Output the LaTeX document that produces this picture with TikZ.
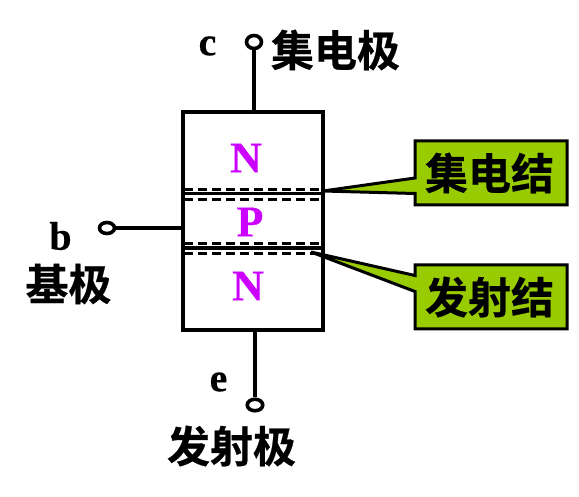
\documentclass[tikz,border=0pt]{standalone}
\usepackage{fontspec}
\setmainfont{Liberation Serif}[BoldFeatures={FakeBold=0.4}]
\newfontfamily\cjk{Noto Sans CJK SC Bold}[FakeBold=0.6]
\definecolor{calloutgreen}{HTML}{99CC00}
\definecolor{layerpurple}{HTML}{CC00FF}
\usetikzlibrary{shapes.geometric}
\tikzset{
  lab/.style={inner sep=0pt,font=\cjk\fontsize{43}{43}\selectfont},
  pin/.style={inner sep=0pt,font=\bfseries\fontsize{40}{40}\selectfont},
  layer/.style={inner sep=0pt,text=layerpurple,font=\bfseries\fontsize{44}{44}\selectfont},
  wire/.style={line width=3.4pt},
  term/.style={draw,line width=3.6pt,fill=white,ellipse,inner sep=0pt},
  dash line/.style={line width=2.4pt,dash pattern=on 9pt off 5pt},
  call/.style={draw,line width=3pt,fill=calloutgreen,line join=miter}
}
\begin{document}
\begin{tikzpicture}[x=1pt,y=-1pt]
\useasboundingbox (0,0) rectangle (579,497);
% body
\node[draw,line width=3.8pt,minimum width=140pt,minimum height=218pt,inner sep=0pt] (body) at (253,221) {};
% junction lines
\coordinate (j1l) at (183,193.5); \coordinate (j1r) at (323,193.5);
\coordinate (j2l) at (183,248); \coordinate (j2r) at (323,248);
\draw[wire] (j1l) -- (j1r);
\draw[wire] (j2l) -- (j2r);
\coordinate (d1l) at (184,189.5); \coordinate (d1r) at (323,189.5);
\coordinate (d2l) at (184,199.5); \coordinate (d2r) at (323,199.5);
\coordinate (d3l) at (184,243.5); \coordinate (d3r) at (323,243.5);
\coordinate (d4l) at (184,253.5); \coordinate (d4r) at (323,253.5);
\draw[dash line] (d1l) -- (d1r);
\draw[dash line] (d2l) -- (d2r);
\draw[dash line] (d3l) -- (d3r);
\draw[dash line] (d4l) -- (d4r);
% terminals
\node[term,minimum width=15pt,minimum height=13pt] (tc) at (254,42) {};
\node[term,minimum width=15pt,minimum height=11pt] (tb) at (107,228) {};
\node[term,minimum width=15.5pt,minimum height=11.5pt] (te) at (255,405) {};
\coordinate (bc) at (254,112); \coordinate (bb) at (183,228); \coordinate (be) at (255,330);
\draw[wire] (tc) -- (bc);
\draw[wire] (tb) -- (bb);
\draw[wire] (te) -- (be);
% callouts
\coordinate (tip1) at (323,191);
\coordinate (tip2) at (311,252);
\draw[call] (415,141) -- (567,141) -- (567,205) -- (415,205) -- (415,193.5) -- (tip1) -- (415,178) -- cycle;
\draw[call] (415,265) -- (567,265) -- (567,329) -- (415,329) -- (415,291.5) -- (tip2) -- (415,275.5) -- cycle;
\node[lab] (k1) at (489.5,173) {集电结};
\node[lab] (k2) at (489.5,297) {发射结};
% labels
\node[lab] (lc) at (335.5,50) {集电极};
\node[lab] (lb) at (68.5,284) {基极};
\node[lab] (le) at (231.5,446) {发射极};
\node[pin] (nc) at (207.5,46) {c};
\node[pin] (nb) at (60.5,236) {b};
\node[pin] (ne) at (218.5,382) {e};
\node[layer] (n1) at (246,158) {N};
\node[layer] (p) at (250,222) {P};
\node[layer] (n2) at (248,286) {N};
\end{tikzpicture}
\end{document}
